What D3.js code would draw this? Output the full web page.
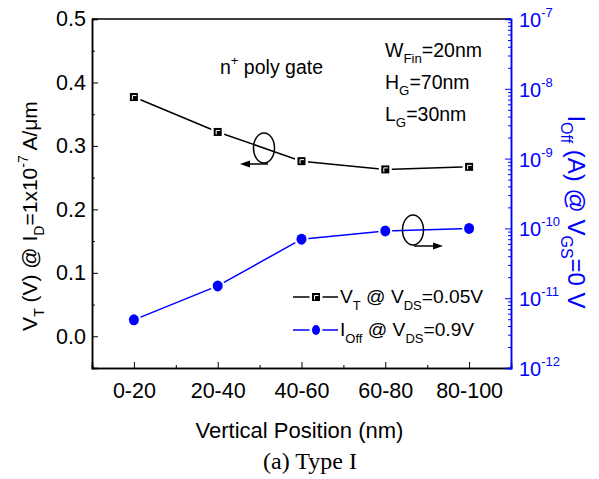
<!DOCTYPE html>
<html>
<head>
<meta charset="utf-8">
<script src="https://cdn.jsdelivr.net/npm/d3@7"></script>
<style>
  body { margin: 0; background: #fff; }
  text { font-family: "Liberation Sans", Arial, sans-serif; }
</style>
</head>
<body>
<div id="chart"></div>
<script>
// categories and series
const positions = ["0-20", "20-40", "40-60", "60-80", "80-100"];
const vt = [0.377, 0.322, 0.276, 0.263, 0.267];
const ioff = [4.9e-12, 1.5e-11, 7.0e-11, 9.2e-11, 1.0e-10];
const leftTicks = [0.0, 0.1, 0.2, 0.3, 0.4, 0.5];
const rightExps = [-12, -11, -10, -9, -8, -7];

const width = 599, height = 479;
const m = { left: 92, right: 511, top: 19, bottom: 368 };
const blue = "#0000ff";

const svg = d3.select("#chart").append("svg")
    .attr("width", width)
    .attr("height", height);

const x = d3.scaleLinear().domain([-0.5, 4.5]).range([m.left, m.right]);
const yL = d3.scaleLinear().domain([-0.05, 0.5]).range([m.bottom, m.top]);
const yR = d3.scaleLog().domain([1e-12, 1e-7]).range([m.bottom, m.top]);

// frame: top line
svg.append("line")
    .attr("x1", m.left).attr("x2", m.right)
    .attr("y1", m.top).attr("y2", m.top)
    .attr("stroke", "#000").attr("stroke-width", 1.5);

// left axis
const gL = svg.append("g").attr("transform", `translate(${m.left},0)`);
gL.call(d3.axisLeft(yL).tickValues(leftTicks).tickSize(-6).tickPadding(6).tickFormat(d3.format(".1f")));
gL.append("g").call(d3.axisLeft(yL).tickValues(d3.range(-0.05, 0.5, 0.1)).tickSize(-3).tickFormat(""));
gL.selectAll("path").attr("stroke-width", 1.5);
gL.selectAll("text").attr("font-size", 21.5).attr("font-family", "Liberation Sans, Arial, sans-serif");

// bottom axis
const gB = svg.append("g").attr("transform", `translate(0,${m.bottom})`);
gB.call(d3.axisBottom(x).tickValues(d3.range(0, 5)).tickSize(-6).tickPadding(15)
    .tickFormat(i => positions[i]));
gB.append("g").call(d3.axisBottom(x).tickValues(d3.range(0.5, 4, 1)).tickSize(-3).tickFormat(""));
gB.selectAll("path").attr("stroke-width", 1.5);
gB.selectAll("text").attr("font-size", 21.5).attr("font-family", "Liberation Sans, Arial, sans-serif");

// right axis (log, blue)
const gR = svg.append("g").attr("transform", `translate(${m.right},0)`);
const minor = [];
for (let e = -12; e < -7; e++) for (let k = 2; k <= 9; k++) minor.push(k * Math.pow(10, e));
gR.call(d3.axisRight(yR).tickValues(rightExps.map(e => Math.pow(10, e))).tickSize(-6).tickFormat(""));
gR.append("g").call(d3.axisRight(yR).tickValues(minor).tickSize(-3).tickFormat(""));
gR.selectAll("path, line").attr("stroke", blue);
gR.selectAll("path").attr("stroke-width", 1.5);
rightExps.forEach(e => {
  const t = gR.append("text")
      .attr("x", 8).attr("y", yR(Math.pow(10, e)) + 8)
      .attr("fill", blue).attr("font-size", 20);
  t.append("tspan").text("10");
  t.append("tspan").attr("dy", -10).attr("font-size", 13).text(String(e));
});

// lines
const lineL = d3.line().x((d, i) => x(i)).y(d => yL(d));
const lineR = d3.line().x((d, i) => x(i)).y(d => yR(d));

svg.append("path").datum(vt)
    .attr("d", lineL).attr("fill", "none")
    .attr("stroke", "#000").attr("stroke-width", 1.5);
svg.append("path").datum(ioff)
    .attr("d", lineR).attr("fill", "none")
    .attr("stroke", blue).attr("stroke-width", 1.5);

// markers with white halo for the Origin-style gap
svg.selectAll(".sq").data(vt).enter().append("rect")
    .attr("x", (d, i) => x(i) - 4).attr("y", d => yL(d) - 4)
    .attr("width", 8).attr("height", 8)
    .attr("fill", "#000").attr("stroke", "#fff").attr("stroke-width", 5)
    .attr("paint-order", "stroke");
svg.selectAll(".sqin").data(vt).enter().append("path")
    .attr("d", (d, i) => `M${x(i) - 1.5},${yL(d) + 2.5}V${yL(d) - 1.5}H${x(i) + 2.5}`)
    .attr("fill", "none").attr("stroke", "#fff").attr("stroke-width", 1);
svg.selectAll(".dot").data(ioff).enter().append("ellipse")
    .attr("cx", (d, i) => x(i)).attr("cy", d => yR(d))
    .attr("rx", 5).attr("ry", 5.5)
    .attr("fill", blue).attr("stroke", "#fff").attr("stroke-width", 4)
    .attr("paint-order", "stroke");

// loop arrows
function loop(cx, cy, x1, x2, yArrow) {
  svg.append("ellipse").attr("cx", cx).attr("cy", cy).attr("rx", 10.5).attr("ry", 15)
      .attr("fill", "none").attr("stroke", "#000").attr("stroke-width", 1.5);
  svg.append("line").attr("x1", x1).attr("x2", x2).attr("y1", yArrow).attr("y2", yArrow)
      .attr("stroke", "#000").attr("stroke-width", 1.5);
  const dir = Math.sign(x2 - x1);
  svg.append("path")
      .attr("d", `M${x2 + dir * 3},${yArrow}L${x2 - dir * 7},${yArrow - 3.5}L${x2 - dir * 7},${yArrow + 3.5}Z`)
      .attr("fill", "#000");
}
loop(264, 148, 268, 243, 164);
loop(413, 230, 414, 440, 246);

// annotations
const n = svg.append("text").attr("x", 220).attr("y", 74).attr("font-size", 19.5);
n.append("tspan").text("n");
n.append("tspan").attr("dy", -9).attr("font-size", 13).text("+");
n.append("tspan").attr("dy", 9).text(" poly gate");

function subText(xp, yp, main, sub, rest, size, fill) {
  const t = svg.append("text").attr("x", xp).attr("y", yp).attr("font-size", size).attr("fill", fill || "#000");
  t.append("tspan").text(main);
  t.append("tspan").attr("dy", 6).attr("font-size", size * 0.68).text(sub);
  t.append("tspan").attr("dy", -6).text(rest);
  return t;
}
subText(385, 57, "W", "Fin", "=20nm", 19.5);
subText(385, 89, "H", "G", "=70nm", 19.5);
subText(385, 121, "L", "G", "=30nm", 19.5);

// legend
const lg = svg.append("g");
lg.append("line").attr("x1", 293).attr("x2", 338).attr("y1", 297).attr("y2", 297)
    .attr("stroke", "#000").attr("stroke-width", 1.5);
lg.append("rect").attr("x", 312).attr("y", 293).attr("width", 8).attr("height", 8)
    .attr("fill", "#000").attr("stroke", "#fff").attr("stroke-width", 5).attr("paint-order", "stroke");
lg.append("path").attr("d", "M314.5,299.5V295.5H318.5").attr("fill", "none")
    .attr("stroke", "#fff").attr("stroke-width", 1);
lg.append("line").attr("x1", 293).attr("x2", 338).attr("y1", 330).attr("y2", 330)
    .attr("stroke", blue).attr("stroke-width", 1.5);
lg.append("ellipse").attr("cx", 316).attr("cy", 330).attr("rx", 4).attr("ry", 5)
    .attr("fill", blue).attr("stroke", "#fff").attr("stroke-width", 5).attr("paint-order", "stroke");
const l1 = svg.append("text").attr("x", 340).attr("y", 303).attr("font-size", 19.2);
l1.append("tspan").text("V");
l1.append("tspan").attr("dy", 7).attr("font-size", 13).text("T");
l1.append("tspan").attr("dy", -7).text(" @ V");
l1.append("tspan").attr("dy", 7).attr("font-size", 13).text("DS");
l1.append("tspan").attr("dy", -7).text("=0.05V");
const l2 = svg.append("text").attr("x", 340).attr("y", 336).attr("font-size", 19.2);
l2.append("tspan").text("I");
l2.append("tspan").attr("dy", 7).attr("font-size", 13).text("Off");
l2.append("tspan").attr("dy", -7).text(" @ V");
l2.append("tspan").attr("dy", 7).attr("font-size", 13).text("DS");
l2.append("tspan").attr("dy", -7).text("=0.9V");

// axis titles
svg.append("text").attr("x", (m.left + m.right) / 2 - 2).attr("y", 438)
    .attr("text-anchor", "middle").attr("font-size", 22).text("Vertical Position (nm)");

const tl = svg.append("text")
    .attr("transform", `translate(37,216) rotate(-90)`)
    .attr("text-anchor", "middle").attr("font-size", 21);
tl.append("tspan").text("V");
tl.append("tspan").attr("dy", 7).attr("font-size", 14).text("T");
tl.append("tspan").attr("dy", -7).text(" (V) @ I");
tl.append("tspan").attr("dy", 7).attr("font-size", 14).text("D");
tl.append("tspan").attr("dy", -7).text("=1x10");
tl.append("tspan").attr("dy", -9).attr("font-size", 14).text("-7");
tl.append("tspan").attr("dy", 9).text(" A/\u03bcm");

const tr = svg.append("text")
    .attr("transform", `translate(568,212) rotate(90)`)
    .attr("text-anchor", "middle").attr("font-size", 24).attr("fill", blue);
tr.append("tspan").text("I");
tr.append("tspan").attr("dy", 7).attr("font-size", 16).text("Off");
tr.append("tspan").attr("dy", -7).text(" (A) @ V");
tr.append("tspan").attr("dy", 7).attr("font-size", 16).text("GS");
tr.append("tspan").attr("dy", -7).text("=0 V");

// caption
svg.append("text").attr("x", 310).attr("y", 469)
    .attr("text-anchor", "middle").attr("font-size", 24)
    .style("font-family", "Liberation Serif, Times New Roman, serif")
    .text("(a) Type I");
</script>
</body>
</html>
